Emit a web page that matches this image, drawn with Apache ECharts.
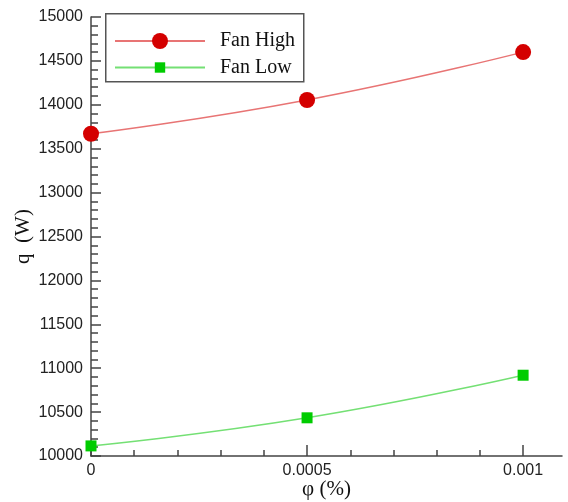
<!DOCTYPE html>
<html>
<head>
<meta charset="utf-8">
<script src="https://cdn.jsdelivr.net/npm/echarts@6/dist/echarts.min.js"></script>
<style>html,body{margin:0;padding:0;background:#fff;}#c{width:568px;height:502px;}</style>
</head>
<body>
<div id="c"></div>
<script>
var xValues = [0, 0.0005, 0.001];
var fanHigh = [13670, 14055, 14600];
var fanLow = [10115, 10435, 10920];
var xMajorTicks = [0, 0.0005, 0.001];
var xMinorTicks = [0.0001, 0.0002, 0.0003, 0.0004, 0.0006, 0.0007, 0.0008, 0.0009];
var seriesNames = ['Fan High', 'Fan Low'];

function pairs(xs, ys) { return xs.map(function (x, i) { return [x, ys[i]]; }); }

var chart = echarts.init(document.getElementById('c'));
var axisColor = '#444';
var labelFont = { fontFamily: 'Liberation Sans, Arial, sans-serif', fontSize: 16, color: '#222' };
var serif = 'Liberation Serif, Times New Roman, serif';

chart.setOption({
  animation: false,
  grid: { left: 91, right: 6, top: 17, bottom: 46, containLabel: false, outerBoundsMode: 'none' },
  graphic: [{
    type: 'rect', left: 105, top: 13, z: 10,
    shape: { width: 198, height: 68 },
    style: { fill: 'rgba(0,0,0,0)', stroke: '#555', lineWidth: 1.5 }
  }],
  legend: [{
    data: [seriesNames[0]], left: 114, top: 31, padding: 0, orient: 'vertical',
    itemWidth: 90, itemHeight: 20,
    textStyle: { fontFamily: serif, fontSize: 20, color: '#111', padding: [0, 0, 0, 10] }
  }, {
    data: [seriesNames[1]], left: 114, top: 57.5, padding: 0, orient: 'vertical',
    itemWidth: 90, itemHeight: 13,
    textStyle: { fontFamily: serif, fontSize: 20, color: '#111', padding: [0, 0, 0, 10] }
  }],
  xAxis: [{
    type: 'value', min: 0, max: 0.00109,
    name: 'φ (%)', nameLocation: 'middle', nameGap: 23, nameMoveOverlap: false,
    nameTextStyle: { fontFamily: serif, fontSize: 21, color: '#111' },
    axisLine: { show: true, lineStyle: { color: axisColor, width: 1.5 } },
    axisTick: { show: true, inside: true, length: 11, customValues: xMajorTicks, lineStyle: { color: axisColor, width: 1.5 } },
    axisLabel: Object.assign({ margin: 7, customValues: xMajorTicks, formatter: function (v) { return String(v); } }, labelFont),
    splitLine: { show: false }
  }, {
    type: 'value', min: 0, max: 0.00109, position: 'bottom',
    axisLine: { show: false },
    axisTick: { show: true, inside: true, length: 6, customValues: xMinorTicks, lineStyle: { color: axisColor, width: 1.5 } },
    axisLabel: { show: false },
    splitLine: { show: false }
  }],
  yAxis: {
    type: 'value', min: 10000, max: 15000, interval: 500,
    name: 'q  (W)', nameLocation: 'middle', nameGap: 57, nameRotate: 90, nameMoveOverlap: false,
    nameTextStyle: { fontFamily: serif, fontSize: 21, color: '#111' },
    axisLine: { show: true, lineStyle: { color: axisColor, width: 1.5 } },
    axisTick: { show: true, inside: true, length: 10, lineStyle: { color: axisColor, width: 1.5 } },
    minorTick: { show: true, splitNumber: 5, length: 7, lineStyle: { color: axisColor, width: 1.5 } },
    axisLabel: Object.assign({ margin: 8, formatter: function (v) { return String(v); } }, labelFont),
    splitLine: { show: false }
  },
  series: [{
    name: seriesNames[0], type: 'line', xAxisIndex: 0, smooth: true, clip: false,
    data: pairs(xValues, fanHigh),
    symbol: 'circle', symbolSize: 16,
    itemStyle: { color: '#d40000' },
    lineStyle: { color: '#e87474', width: 1.5 }
  }, {
    name: seriesNames[1], type: 'line', xAxisIndex: 0, smooth: true, clip: false,
    data: pairs(xValues, fanLow),
    symbol: 'rect', symbolSize: 11,
    itemStyle: { color: '#00cc00' },
    lineStyle: { color: '#74e074', width: 1.5 }
  }]
});
</script>
</body>
</html>
